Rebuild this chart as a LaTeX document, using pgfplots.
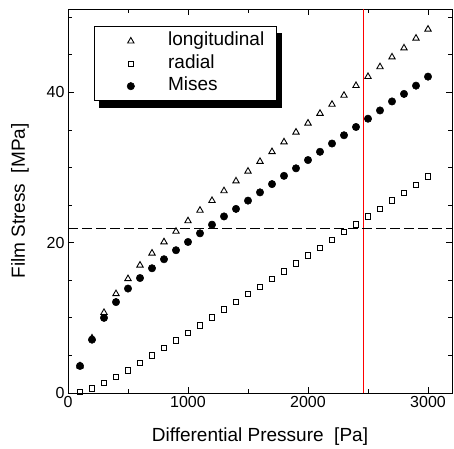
\documentclass[border=0pt]{standalone}
\usepackage{fontspec}
\setmainfont{Liberation Sans}
\usepackage{pgfplots}
\pgfplotsset{compat=1.18}
\pgfdeclarelayer{background}
\pgfsetlayers{background,main}

\pgfplotstableread{
x y
100 3.6
200 7.3
300 10.7
400 13.2
500 15.2
600 17.0
700 18.6
800 20.1
900 21.5
1000 22.9
1100 24.3
1200 25.6
1300 26.9
1400 28.2
1500 29.5
1600 30.8
1700 32.1
1800 33.4
1900 34.7
2000 35.9
2100 37.2
2200 38.4
2300 39.6
2400 40.9
2500 42.1
2600 43.4
2700 44.7
2800 45.9
2900 47.2
3000 48.4
}\longdata

\pgfplotstableread{
x y
100 0.15
200 0.6
300 1.3
400 2.1
500 3.0
600 4.0
700 5.0
800 6.0
900 7.0
1000 8.0
1100 9.0
1200 10.05
1300 11.1
1400 12.1
1500 13.2
1600 14.1
1700 15.2
1800 16.2
1900 17.25
2000 18.3
2100 19.3
2200 20.4
2300 21.4
2400 22.45
2500 23.5
2600 24.5
2700 25.6
2800 26.65
2900 27.7
3000 28.8
}\raddata

\pgfplotstableread{
x y
100 3.6
200 7.1
300 10.0
400 12.1
500 13.9
600 15.3
700 16.6
800 17.8
900 19.0
1000 20.1
1100 21.25
1200 22.4
1300 23.5
1400 24.5
1500 25.6
1600 26.7
1700 27.8
1800 28.9
1900 29.9
2000 31.0
2100 32.1
2200 33.2
2300 34.3
2400 35.4
2500 36.5
2600 37.6
2700 38.8
2800 39.8
2900 40.9
3000 42.1
}\misesdata

\begin{document}
\begin{tikzpicture}
\useasboundingbox (-68pt,-55pt) rectangle (386pt,393pt);
\begin{axis}[
  at={(0pt,0pt)}, anchor=south west,
  scale only axis, width=384pt, height=384pt,
  xmin=0, xmax=3200, ymin=0, ymax=51.1,
  xtick={0,1000,2000,3000}, minor xtick={500,1500,2500},
  ytick={0,20,40}, minor ytick={5,10,15,25,30,35,45,50},
  tick align=inside, major tick length=6pt, minor tick length=4pt,
  tick style={black, line width=0.8pt},
  axis line style={line width=0.8pt},
  /pgf/number format/1000 sep={},
  /pgf/number format/assume math mode=true,
  tick label style={font=\fontsize{16}{18}\selectfont},
  label style={font=\fontsize{19}{22}\selectfont},
  xlabel={Differential Pressure\ \ [Pa]},
  ylabel={Film Stress\ \ [MPa]},
  xlabel style={at={(axis description cs:0.5,-0.1146)}, anchor=center},
  ylabel style={at={(axis description cs:-0.125,0.5)}, anchor=center},
  legend style={at={(axis description cs:0.067,0.955)}, anchor=north west,
    name=leg,
    draw=black, line width=0.8pt, fill=white,
    inner xsep=8pt, inner ysep=5pt, row sep=3.5pt,
    font=\fontsize{19}{22}\selectfont,
    nodes={inner xsep=4pt, inner ysep=0pt, text height=14pt, text depth=5pt}},
  legend cell align=left,
  legend image code/.code={%
    \pgfpathrectangle{\pgfpoint{0pt}{-5pt}}{\pgfpoint{62pt}{10pt}}\pgfusepath{discard}%
    \draw[#1] plot coordinates {(28.7pt,0pt)};},
]
\addplot[forget plot, draw=red, line width=1.6pt] coordinates {(2462,0) (2462,51.1)};
\addplot[forget plot, draw=black, line width=0.8pt, dash pattern=on 10pt off 4pt] coordinates {(0,21.9) (3200,21.9)};
\addplot[only marks, mark=triangle, mark size=3.7pt, line width=0.9pt, mark options={solid, fill=white}] table {\longdata};
\addlegendentry{longitudinal}
\addplot[only marks, mark=square, mark size=2.7pt, line width=0.9pt, mark options={solid, fill=white}] table {\raddata};
\addlegendentry{radial}
\addplot[only marks, mark=*, mark size=3.7pt, line width=0.5pt, mark options={solid, fill=black}] table {\misesdata};
\addlegendentry{Mises}
\end{axis}
\begin{pgfonlayer}{background}
\fill[black] ([xshift=5.5pt,yshift=-6.5pt]leg.south west) rectangle ([xshift=5.5pt,yshift=-6.5pt]leg.north east);
\end{pgfonlayer}
\end{tikzpicture}
\end{document}
